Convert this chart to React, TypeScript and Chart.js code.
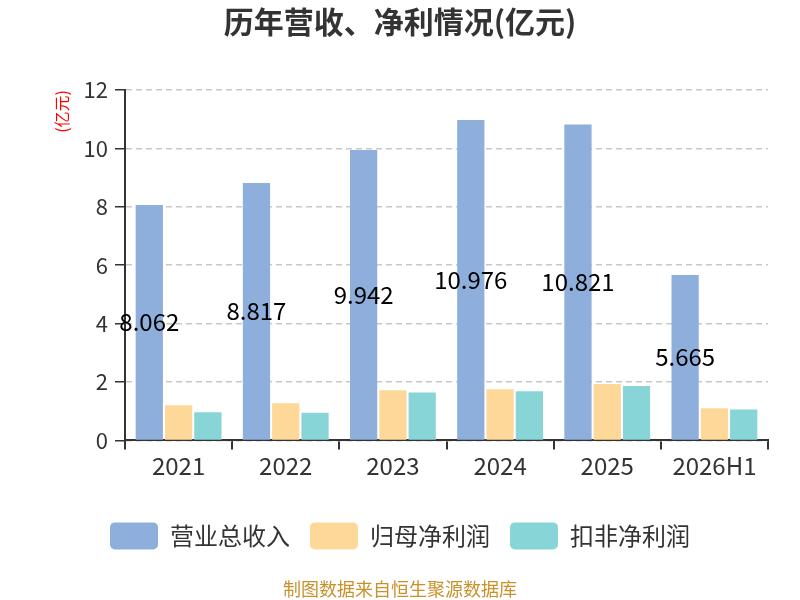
import { useEffect, useRef } from 'react';
import { Chart, registerables } from 'chart.js';

Chart.register(...registerables);

const years = ['2021', '2022', '2023', '2024', '2025', '2026H1'];
const revenue = [8.062, 8.817, 9.942, 10.976, 10.821, 5.665];
const netProfit = [1.2, 1.27, 1.72, 1.75, 1.93, 1.1];
const deductedProfit = [0.96, 0.95, 1.64, 1.68, 1.86, 1.06];
const yTicks = [0, 2, 4, 6, 8, 10, 12];

const FONT = "'Noto Sans CJK SC', 'Noto Sans', sans-serif";

// draws the revenue value in the middle of each blue bar
const midLabels = {
  id: 'midLabels',
  afterDatasetsDraw(chart) {
    const { ctx } = chart;
    const meta = chart.getDatasetMeta(0);
    ctx.save();
    ctx.font = `24px ${FONT}`;
    ctx.fillStyle = '#000';
    ctx.textAlign = 'center';
    ctx.textBaseline = 'middle';
    meta.data.forEach((bar, i) => {
      const { x, y, base } = bar.getProps(['x', 'y', 'base'], true);
      ctx.fillText(revenue[i].toFixed(3), x, (y + base) / 2);
    });
    ctx.restore();
  },
};

const App = () => {
  const canvasRef = useRef<HTMLCanvasElement | null>(null);

  useEffect(() => {
    const canvas = canvasRef.current;
    if (!canvas) return;

    const chart = new Chart(canvas, {
      type: 'bar',
      data: {
        labels: years,
        datasets: [
          { label: '营业总收入', data: revenue, backgroundColor: '#8eaedb' },
          { label: '归母净利润', data: netProfit, backgroundColor: '#fdd899' },
          { label: '扣非净利润', data: deductedProfit, backgroundColor: '#88d5d8' },
        ],
      },
      options: {
        animation: false,
        responsive: true,
        maintainAspectRatio: false,
        datasets: {
          bar: { categoryPercentage: 0.82, barPercentage: 0.93 },
        },
        layout: { padding: { left: 32, right: 32, top: 4, bottom: 0 } },
        plugins: {
          title: {
            display: true,
            text: '历年营收、净利情况(亿元)',
            color: '#333',
            font: { family: FONT, size: 30, weight: 'bold' },
            padding: { top: 0, bottom: 50 },
          },
          subtitle: {
            display: true,
            position: 'bottom',
            text: '制图数据来自恒生聚源数据库',
            color: '#c8922a',
            font: { family: FONT, size: 18 },
            padding: { top: 19, bottom: 0 },
          },
          legend: {
            position: 'bottom',
            labels: {
              boxWidth: 48,
              boxHeight: 27,
              useBorderRadius: true,
              borderRadius: 5,
              padding: 20,
              color: '#333',
              font: { family: FONT, size: 24 },
            },
          },
          tooltip: { enabled: false },
        },
        scales: {
          x: {
            afterFit(axis) {
              axis.height = 62;
            },
            grid: {
              drawOnChartArea: false,
              tickColor: '#333',
              tickLength: 9,
              lineWidth: 2,
            },
            border: { color: '#333', width: 2 },
            ticks: {
              color: '#333',
              padding: 2,
              font: { family: FONT, size: 24 },
            },
          },
          y: {
            min: 0,
            max: 12,
            afterBuildTicks(axis) {
              axis.ticks = yTicks.map((v) => ({ value: v }));
            },
            afterFit(axis) {
              axis.width = 93;
            },
            grid: {
              color: '#c8c8c8',
              lineWidth: 1.5,
              tickColor: '#333',
              tickLength: 10,
              tickBorderDash: [],
            },
            border: { color: '#333', width: 2, dash: [6, 4] },
            ticks: {
              color: '#333',
              padding: 7,
              font: { family: FONT, size: 22 },
            },
            title: {
              display: true,
              text: '(亿元)',
              align: 'end',
              color: '#ff0000',
              font: { family: FONT, size: 16 },
              padding: { top: 20, bottom: 0 },
            },
          },
        },
      },
      plugins: [midLabels],
    });

    return () => {
      chart.destroy();
    };
  }, []);

  return (
    <div style={{ position: 'fixed', left: 0, top: 0, width: 800, height: 600, background: '#fff' }}>
      <canvas ref={canvasRef} />
    </div>
  );
};

export default App;
